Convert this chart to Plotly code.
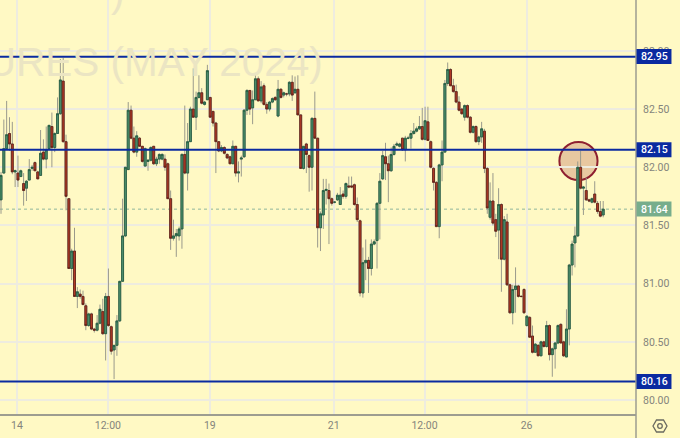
import plotly.graph_objects as go

opens = [81.72,81.95,82.16,82.29,82.2,81.96,81.95,81.92,81.86,81.82,
81.89,81.99,82.04,81.96,81.93,82.13,82.07,82.16,82.35,82.17,
82.29,82.46,82.74,82.22,81.73,81.13,81.28,80.89,80.91,80.89,
80.81,80.64,80.74,80.61,80.6,80.66,80.76,80.57,80.89,80.63,
80.43,80.47,80.68,81.02,81.41,81.98,82.49,82.25,82.13,82.25,
82.18,82.01,82.05,82.06,82.18,82.03,82.07,82.07,82.07,82.03,
81.73,81.39,81.41,81.41,81.47,82.11,81.95,82.22,82.5,82.43,
82.6,82.64,82.54,82.58,82.6,82.48,82.38,82.22,82.14,82.17,
82.11,82.09,82.03,82.18,81.95,82.07,82.09,82.49,82.66,82.51,
82.58,82.76,82.57,82.7,82.54,82.5,82.56,82.6,82.44,82.67,
82.62,82.63,82.63,82.73,82.64,82.67,82.45,81.99,82.2,82.1,
82.0,82.42,82.25,81.48,81.59,81.8,81.8,81.73,81.7,81.72,
81.68,81.77,81.75,81.84,81.84,81.85,81.68,81.54,80.92,81.18,
81.2,81.13,81.34,81.37,81.69,81.9,82.09,82.03,81.97,82.11,
82.19,82.18,82.25,82.15,82.25,82.25,82.29,82.31,82.33,82.35,
82.24,82.39,82.22,81.99,81.87,81.49,82.02,82.13,82.72,82.84,
82.7,82.65,82.56,82.5,82.43,82.53,82.43,82.3,82.35,82.22,
82.26,82.31,81.99,81.57,81.71,81.55,81.46,81.68,81.21,81.53,
80.99,80.75,80.95,80.98,80.89,80.95,80.64,80.71,80.55,80.41,
80.47,80.38,80.5,80.46,80.64,80.39,80.44,80.49,80.65,80.5,
80.37,80.61,81.16,81.35,81.41,82.0,81.82,81.8,81.72,81.7,
81.77,81.69,81.62,81.59]
closes = [81.93,82.16,82.28,82.2,81.96,81.97,81.89,81.97,81.8,81.88,
81.98,82.0,81.97,81.9,82.12,82.07,82.15,82.36,82.17,82.29,
82.46,82.75,82.22,81.75,81.13,81.28,80.89,80.93,80.89,80.82,
80.64,80.74,80.61,80.6,80.66,80.78,80.57,80.89,80.64,80.42,
80.47,80.68,81.02,81.41,82.0,82.49,82.25,82.13,82.27,82.18,
82.05,82.16,82.06,82.17,82.03,82.07,82.11,82.11,82.0,81.73,
81.39,81.41,81.43,81.47,82.11,81.95,82.22,82.5,82.43,82.6,
82.64,82.55,82.56,82.83,82.43,82.38,82.22,82.14,82.17,82.12,
82.08,82.03,82.18,81.95,81.96,82.08,82.49,82.66,82.5,82.58,
82.76,82.57,82.69,82.54,82.5,82.56,82.59,82.58,82.67,82.6,
82.64,82.63,82.73,82.62,82.67,82.45,81.99,82.18,82.11,82.0,
82.42,82.25,81.48,81.6,81.8,81.81,81.73,81.69,81.7,81.76,
81.76,81.75,81.86,81.83,81.83,81.68,81.55,80.92,81.18,81.2,
81.13,81.34,81.36,81.69,81.88,82.1,82.03,81.97,82.11,82.18,
82.2,82.2,82.15,82.25,82.25,82.29,82.31,82.33,82.35,82.24,
82.4,82.23,82.0,81.87,81.49,82.02,82.13,82.72,82.84,82.7,
82.65,82.56,82.49,82.46,82.53,82.43,82.3,82.35,82.22,82.26,
82.33,81.99,81.65,81.71,81.52,81.45,81.68,81.21,81.55,80.99,
80.75,80.95,80.98,80.89,80.89,80.75,80.72,80.54,80.41,80.48,
80.38,80.5,80.46,80.64,80.39,80.44,80.49,80.64,80.49,80.38,
80.61,81.16,81.34,81.41,82.0,81.82,81.83,81.72,81.71,81.73,
81.7,81.62,81.58,81.64]
highs = [81.96,82.41,82.57,82.43,82.39,81.98,82.1,81.98,81.95,81.89,
82.07,82.02,82.05,81.97,82.32,82.24,82.35,82.36,82.47,82.3,
82.6,82.93,82.94,82.28,81.73,81.3,81.48,80.97,80.95,80.94,
80.83,80.75,80.75,80.62,80.73,80.82,80.87,80.92,81.13,80.64,
80.47,80.73,81.02,81.73,82.0,82.56,82.53,82.35,82.31,82.26,
82.18,82.17,82.07,82.18,82.18,82.09,82.12,82.12,82.11,82.04,
81.8,81.55,81.47,81.49,82.12,82.53,82.38,82.52,82.85,82.65,
82.79,82.68,82.57,82.88,82.6,82.48,82.39,82.22,82.19,82.18,
82.12,82.1,82.23,82.18,82.05,82.1,82.5,82.67,82.66,82.66,
82.8,82.78,82.74,82.72,82.56,82.57,82.6,82.61,82.75,82.68,
82.65,82.64,82.74,82.79,82.78,82.79,82.45,82.18,82.21,82.11,
82.43,82.65,82.25,81.62,81.9,81.9,81.86,81.74,81.71,81.78,
81.83,81.8,81.87,81.92,81.92,81.86,81.74,81.55,81.31,81.38,
81.23,81.38,81.38,81.7,81.95,82.14,82.21,82.1,82.17,82.2,
82.22,82.21,82.25,82.27,82.27,82.32,82.38,82.35,82.44,82.51,
82.52,82.52,82.23,82.0,81.88,82.03,82.23,82.75,82.9,82.85,
82.76,82.71,82.61,82.51,82.54,82.54,82.44,82.36,82.36,82.27,
82.39,82.33,82.0,81.87,81.95,81.6,81.82,81.69,81.58,81.6,
81.0,80.99,81.14,80.99,80.9,80.96,80.73,80.72,80.64,80.49,
80.48,80.51,80.51,80.68,80.65,80.45,80.5,80.65,80.66,80.51,
80.78,81.17,81.37,81.49,82.05,82.14,81.84,81.91,81.73,81.74,
81.88,81.71,81.71,81.71]
lows = [81.6,81.95,82.15,82.14,81.94,81.83,81.83,81.92,81.67,81.71,
81.89,81.97,81.97,81.9,81.93,82.06,81.99,82.16,82.0,82.13,
82.29,82.45,82.21,81.63,81.13,81.03,80.89,80.79,80.87,80.82,
80.6,80.63,80.6,80.58,80.59,80.65,80.56,80.34,80.63,80.39,
80.18,80.38,80.67,81.02,81.4,81.98,82.24,82.12,82.09,82.18,
82.04,82.01,81.97,82.05,82.02,82.01,82.03,82.06,81.97,81.73,
81.29,81.37,81.23,81.37,81.3,81.94,81.8,82.22,82.43,82.32,
82.59,82.54,82.53,82.58,82.43,82.35,81.95,82.13,82.13,82.11,
82.07,82.03,82.03,81.92,81.87,81.92,82.08,82.45,82.45,82.37,
82.58,82.57,82.55,82.53,82.46,82.48,82.55,82.57,82.43,82.59,
82.6,82.61,82.61,82.57,82.63,82.45,81.99,81.98,81.95,81.79,
81.8,82.25,81.31,81.28,81.47,81.68,81.34,81.67,81.69,81.71,
81.68,81.73,81.73,81.82,81.82,81.67,81.53,80.89,80.88,81.03,
80.92,81.07,81.33,81.13,81.38,81.89,81.89,81.7,81.96,82.1,
82.18,82.17,82.14,82.05,82.24,82.16,82.28,82.3,82.32,82.23,
82.23,82.23,81.99,81.8,81.49,81.39,81.88,82.13,82.7,82.7,
82.64,82.55,82.48,82.45,82.4,82.42,82.29,82.29,82.21,82.19,
82.21,81.95,81.6,81.55,81.5,81.4,81.21,80.93,81.2,80.98,
80.74,80.65,80.75,80.88,80.88,80.74,80.63,80.54,80.4,80.41,
80.38,80.38,80.45,80.45,80.34,80.2,80.27,80.48,80.49,80.37,
80.37,80.47,81.07,81.14,81.4,81.81,81.59,81.71,81.7,81.69,
81.69,81.6,81.57,81.57]

sessions = list(range(len(opens)))
level_prices = [82.95, 82.15, 80.16]
last_price = 81.64
y_ticks = [80.0, 80.5, 81.0, 81.5, 82.0, 82.5, 83.0]
y_tick_labels = ["80.00", "80.50", "81.00", "81.50", "82.00", "82.50", "83.00"]
x_ticks = [5.65, 37.8, 73.85, 117.7, 149.8, 185.9]
x_tick_labels = ["14", "12:00", "19", "21", "12:00", "26"]

W, H = 680, 438
PL, PR, PB = 636.5, 680 - 636.5, 24
plot_w, plot_h = PL, H - PB
BG = "#fff9c4"
GRID = "#eeecdf"
AXC = "#9d9d90"
TXT = "#84847c"
BLUE = "#0a2aa0"
FONT = "Roboto"

def px(x):
    return x / plot_w

def py(y):
    return 1 - y / plot_h

body_top = [max(o, c) for o, c in zip(opens, closes)]
body_bot = [min(o, c) for o, c in zip(opens, closes)]

fig = go.Figure()
fig.add_trace(go.Candlestick(
    x=sessions, open=opens, high=highs, low=lows, close=closes, name="wicks",
    whiskerwidth=0,
    increasing=dict(line=dict(color="#9a9a8c", width=1), fillcolor="#9a9a8c"),
    decreasing=dict(line=dict(color="#9a9a8c", width=1), fillcolor="#9a9a8c"),
    hoverinfo="skip", showlegend=False))
fig.add_trace(go.Candlestick(
    x=sessions, open=opens, high=body_top, low=body_bot, close=closes, name="bodies",
    whiskerwidth=0,
    increasing=dict(line=dict(color="#1f5a3e", width=0.8), fillcolor="#4f8f6d"),
    decreasing=dict(line=dict(color="#5e1f14", width=0.8), fillcolor="#b23a26"),
    showlegend=False))

shapes = []
# circle highlight
shapes.append(dict(type="circle", xref="x", yref="y", x0=197.5, x1=211, y0=81.89, y1=82.217,
                   fillcolor="#e8c8a0", line=dict(color="#8e1f30", width=2), layer="below"))
for p in level_prices:
    shapes.append(dict(type="line", xref="paper", yref="y", x0=0, x1=1, y0=p, y1=p,
                       line=dict(color=BLUE, width=2)))
shapes.append(dict(type="line", xref="paper", yref="y", x0=0, x1=1, y0=last_price, y1=last_price,
                   line=dict(color="#8fb79c", width=1, dash="dot"), layer="below"))
# right axis continues to window bottom
shapes.append(dict(type="line", xref="paper", yref="paper", x0=1, x1=1, y0=py(H), y1=1,
                   line=dict(color=AXC, width=1.5)))

annotations = []
for p, col in [(level_prices[0], BLUE), (level_prices[1], BLUE), (level_prices[2], BLUE), (last_price, "#77ad8c")]:
    yc = 400 - (p - 80) * 116.4
    shapes.append(dict(type="rect", xref="paper", yref="paper", x0=px(637), x1=px(672),
                       y0=py(yc - 7.5), y1=py(yc + 7.5), fillcolor=col, line=dict(width=0)))
    annotations.append(dict(xref="paper", yref="y", x=px(655), y=p, text=f"{p:.2f}", showarrow=False,
                            font=dict(family=FONT, size=10.5, color="white", weight=500),
                            xanchor="center", yanchor="middle"))

# watermark text
annotations.append(dict(xref="paper", yref="paper", x=px(325), y=py(62), text="FUTURES (MAY 2024)",
                        showarrow=False, xanchor="right", yanchor="middle",
                        font=dict(family="Liberation Sans", size=40.5, color="#ebe5c3")))
annotations.append(dict(xref="paper", yref="paper", x=px(118), y=py(-7), text=")",
                        showarrow=False, xanchor="center", yanchor="middle",
                        font=dict(family="Liberation Sans", size=40.5, color="#ebe5c3")))

# settings icon
cx, cy = 660.5, 426
hexagon = [(cx - 7, cy), (cx - 3.5, cy - 6), (cx + 3.5, cy - 6), (cx + 7, cy), (cx + 3.5, cy + 6), (cx - 3.5, cy + 6)]
path = "M " + " L ".join(f"{px(a):.5f},{py(b):.5f}" for a, b in hexagon) + " Z"
shapes.append(dict(type="path", xref="paper", yref="paper", path=path, line=dict(color="#6a6a60", width=1.3)))
shapes.append(dict(type="circle", xref="paper", yref="paper", x0=px(cx - 2.3), x1=px(cx + 2.3),
                   y0=py(cy + 2.3), y1=py(cy - 2.3), line=dict(color="#6a6a60", width=1.3)))

fig.update_layout(
    width=W, height=H, autosize=False,
    margin=dict(l=0, r=PR, t=0, b=PB, pad=0),
    paper_bgcolor=BG, plot_bgcolor=BG,
    shapes=shapes, annotations=annotations,
    boxgap=0,
    xaxis=dict(range=[-0.353, 224.6], tickmode="array", tickvals=x_ticks, ticktext=x_tick_labels,
               showgrid=True, gridcolor=GRID, gridwidth=1.5, rangeslider=dict(visible=False),
               showline=True, linecolor=AXC, linewidth=2, ticks="", zeroline=False,
               tickfont=dict(family=FONT, size=10.5, color=TXT)),
    yaxis=dict(range=[79.88, 83.437], side="right", tickmode="array", tickvals=y_ticks, ticktext=y_tick_labels,
               showgrid=True, gridcolor=GRID, gridwidth=1.5, showline=False, ticks="", zeroline=False,
               ticklabelstandoff=6,
               tickfont=dict(family=FONT, size=10.5, color=TXT)),
    hovermode=False,
)
fig.write_html("out.html", post_script="document.body.style.margin='0';document.body.style.overflow='hidden';",
               config={"displayModeBar": False})
